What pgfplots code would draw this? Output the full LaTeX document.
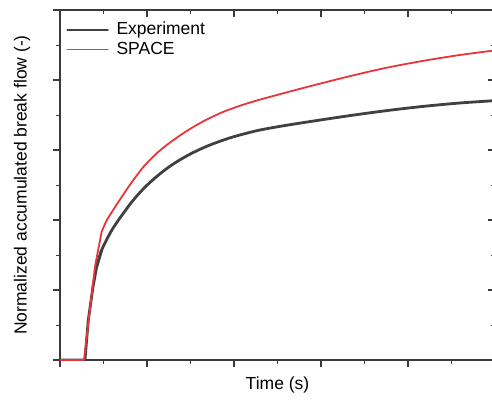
\documentclass[border=0pt]{standalone}
\usepackage{pgfplots}
\pgfplotsset{compat=1.18}
\usepackage{fontspec}
\setmainfont{Liberation Sans}
\definecolor{expc}{HTML}{404040}
\definecolor{spacec}{HTML}{E8343A}
\definecolor{spine}{HTML}{3A3A3A}
\begin{document}
\fontsize{17.5}{21}\selectfont
\begin{tikzpicture}[x=1pt,y=1pt]
\useasboundingbox (0,0) rectangle (492,400);
\pgfplotsset{
  base/.style={
    scale only axis, width=435pt, height=350pt,
    at={(60pt,40pt)}, anchor=south west,
    xmin=0, xmax=5, ymin=0, ymax=5,
    xtick={0,1,2,3,4,5}, ytick={0,1,2,3,4,5},
    minor tick num=1,
    xticklabels={}, yticklabels={},
    major tick length=7pt, minor tick length=4pt,
    every tick/.style={spine, line width=1.2pt},
    every minor tick/.style={spine, line width=1.0pt},
    axis line style={spine, line width=1.6pt},
  }
}
\begin{axis}[base,
    xtick pos=top, ytick pos=right, tick align=inside]
\end{axis}
\begin{axis}[base,
    xtick pos=bottom, ytick pos=left, tick align=outside,
    every axis x label/.style={at={(axis description cs:0.5,-0.072)}, anchor=center},
    every axis y label/.style={at={(axis description cs:-0.087,0.5)}, rotate=90, anchor=center},
    xlabel={Time (s)},
    ylabel={Normalized accumulated break flow (-)},
    legend style={draw=none, fill=none, at={(0.010,0.977)}, anchor=north west,
      font=\fontsize{17.5}{21}\selectfont, row sep=0.5pt,
      inner sep=2pt},
    legend cell align=left,
    legend image code/.code={\draw[#1, line width=1.2pt] (0pt,0pt) -- (41pt,0pt); \path (46pt,0pt);},
  ]
% Experiment: rising part
\addplot[expc, line width=2.8pt, line join=round, line cap=round] coordinates {
(0,0) (0.287,0) (0.325,0.571) (0.379,1.043) (0.422,1.333) (0.479,1.571)
};
\addlegendentry{Experiment}
% Experiment: smooth part
\addplot[expc, line width=2.8pt, line join=round, line cap=round, smooth, tension=0.5, forget plot] coordinates {
(0.422,1.333) (0.479,1.571) (0.575,1.810) (0.650,1.960) (0.728,2.096) (0.820,2.250) (0.920,2.395)
(1.015,2.515) (1.111,2.620) (1.205,2.715) (1.302,2.800) (1.400,2.875) (1.494,2.940)
(1.609,3.010) (1.720,3.070) (1.839,3.125) (1.950,3.172) (2.069,3.215) (2.184,3.252)
(2.299,3.286) (2.529,3.338) (2.759,3.384) (2.989,3.428) (3.138,3.456) (3.330,3.491)
(3.525,3.525) (3.720,3.557) (3.908,3.586) (4.100,3.613) (4.287,3.637) (4.600,3.672)
(4.966,3.703) (5,3.706)
};
% SPACE: rising part
\addplot[spacec, line width=1.8pt, line join=round, line cap=round] coordinates {
(0,0) (0.276,0) (0.402,1.333) (0.479,1.833)
};
\addlegendentry{SPACE}
% SPACE: smooth part
\addplot[spacec, line width=1.8pt, line join=round, line cap=round, smooth, tension=0.5, forget plot] coordinates {
(0.479,1.833) (0.537,1.995) (0.600,2.120) (0.652,2.222) (0.730,2.368) (0.805,2.505)
(0.880,2.633) (0.957,2.756) (1.035,2.860) (1.111,2.953) (1.205,3.050) (1.302,3.140)
(1.400,3.225) (1.494,3.300) (1.609,3.384) (1.720,3.456) (1.839,3.525) (1.950,3.580)
(2.069,3.632) (2.184,3.678) (2.299,3.720) (2.529,3.798) (2.759,3.874) (2.989,3.948)
(3.138,3.995) (3.330,4.054) (3.525,4.112) (3.720,4.166) (3.908,4.213) (4.100,4.257)
(4.287,4.297) (4.600,4.358) (4.966,4.418) (5,4.423)
};
\end{axis}
\end{tikzpicture}
\end{document}
